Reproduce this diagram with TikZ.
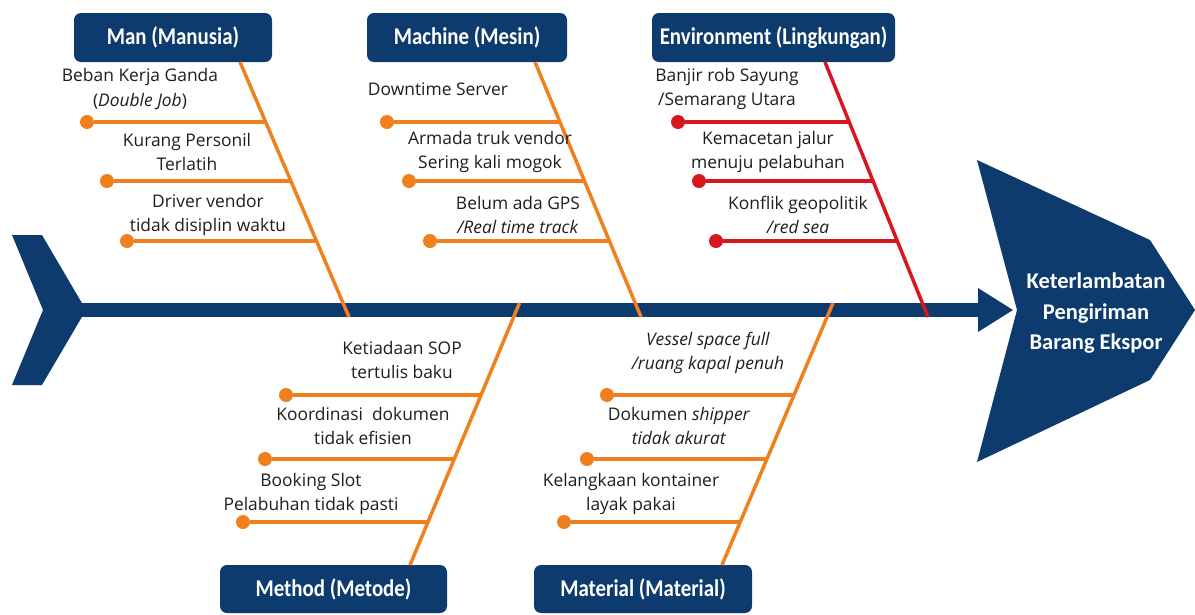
\documentclass[tikz,border=0pt]{standalone}
\usepackage{fontspec}
\usepackage{graphicx}
\setmainfont{Open Sans}
\newfontfamily\hdr{Carlito}
\definecolor{navy}{HTML}{0D3B6E}
\definecolor{org}{HTML}{F07F1D}
\definecolor{rd}{HTML}{D8161F}
\definecolor{txt}{HTML}{1E1E1E}
\newcommand{\hd}[1]{\scalebox{0.87}[1]{#1}}
\begin{document}
\begin{tikzpicture}[x=1pt,y=-1pt,
  box/.style={fill=navy, rounded corners=7pt, text=white, font=\hdr\bfseries\fontsize{24}{26}\selectfont, inner sep=0pt},
  lbl/.style={font=\fontsize{17.4}{24.5}\selectfont, align=center, text=txt, inner sep=0pt},
  obone/.style={draw=org, line width=3.5pt},
  rbone/.style={draw=rd, line width=3.5pt},
  odot/.style={circle, fill=org, minimum size=14pt, inner sep=0pt},
  rdot/.style={circle, fill=rd, minimum size=14pt, inner sep=0pt},
  headtxt/.style={text=white, font=\hdr\bfseries\fontsize{22.5}{30.5}\selectfont, align=center, inner sep=0pt}
]
\useasboundingbox (0,0) rectangle (1195,614);
% tail
\fill[navy] (12,235) -- (42,235) -- (86,310) -- (42,385) -- (12,385) -- (43,310) -- cycle;
% spine with arrow
\fill[navy] (80,303) rectangle (979,317);
\fill[navy] (978,288) -- (1013,310) -- (978,332) -- cycle;
% head
\fill[navy] (977,160) -- (1150,240) -- (1195,310) -- (1150,380) -- (977,462) -- (1017,310) -- cycle;
\node[headtxt] (head) at (1096,313.5) {Keterlambatan\\Pengiriman\\Barang Ekspor};

% category boxes
\node[box, minimum width=198pt, minimum height=49pt] (man) at (173,37.5) {\hd{Man (Manusia)}};
\node[box, minimum width=200pt, minimum height=49pt] (mach) at (467,37.5) {\hd{Machine (Mesin)}};
\node[box, minimum width=243pt, minimum height=49pt] (env) at (773.5,37.5) {\hd{Environment (Lingkungan)}};
\node[box, minimum width=227pt, minimum height=48pt] (meth) at (333.5,589) {\hd{Method (Metode)}};
\node[box, minimum width=218pt, minimum height=48pt] (mat) at (643,589) {\hd{Material (Material)}};

% bone coordinates
\coordinate (manT) at (240,62);   \coordinate (manB) at (349,317);
\coordinate (machT) at (535,62);  \coordinate (machB) at (641,317);
\coordinate (envT) at (825,62);   \coordinate (envB) at (928,317);
\coordinate (methT) at (519.5,303); \coordinate (methB) at (410,565);
\coordinate (matT) at (833,303);  \coordinate (matB) at (722,565);

\draw[obone] (manT) -- (manB);
\draw[obone] (machT) -- (machB);
\draw[rbone] (envT) -- (envB);
\draw[obone] (methT) -- (methB);
\draw[obone] (matT) -- (matB);

% Man branches
\node[odot] (m1) at (87,122) {};  \coordinate (m1e) at (265.5,122);
\node[odot] (m2) at (107,181) {}; \coordinate (m2e) at (290.6,181);
\node[odot] (m3) at (127,241) {}; \coordinate (m3e) at (316.1,241);
\draw[obone] (m1) -- (m1e);
\draw[obone] (m2) -- (m2e);
\draw[obone] (m3) -- (m3e);
% Machine branches
\node[odot] (c1) at (387,122) {}; \coordinate (c1e) at (560,122);
\node[odot] (c2) at (409,181) {}; \coordinate (c2e) at (584.7,181);
\node[odot] (c3) at (430,241) {}; \coordinate (c3e) at (609.7,241);
\draw[obone] (c1) -- (c1e);
\draw[obone] (c2) -- (c2e);
\draw[obone] (c3) -- (c3e);
% Environment branches
\node[rdot] (e1) at (678,122) {}; \coordinate (e1e) at (849.3,122);
\node[rdot] (e2) at (699,181) {}; \coordinate (e2e) at (873.3,181);
\node[rdot] (e3) at (716,241) {}; \coordinate (e3e) at (897.6,241);
\draw[rbone] (e1) -- (e1e);
\draw[rbone] (e2) -- (e2e);
\draw[rbone] (e3) -- (e3e);
% Method branches
\node[odot] (t1) at (286,395) {}; \coordinate (t1e) at (481,395);
\node[odot] (t2) at (265,459) {}; \coordinate (t2e) at (455,459);
\node[odot] (t3) at (243,522) {}; \coordinate (t3e) at (428,522);
\draw[obone] (t1) -- (t1e);
\draw[obone] (t2) -- (t2e);
\draw[obone] (t3) -- (t3e);
% Material branches
\node[odot] (a1) at (607,395) {}; \coordinate (a1e) at (794,395);
\node[odot] (a2) at (587,459) {}; \coordinate (a2e) at (767,459);
\node[odot] (a3) at (564,522) {}; \coordinate (a3e) at (740,522);
\draw[obone] (a1) -- (a1e);
\draw[obone] (a2) -- (a2e);
\draw[obone] (a3) -- (a3e);

% labels
\node[lbl] (lm1) at (140,89) {Beban Kerja Ganda\\(\textit{Double Job})};
\node[lbl] (lm2) at (187,152) {Kurang Personil\\Terlatih};
\node[lbl] (lm3) at (208,215) {Driver vendor\\tidak disiplin waktu};
\node[lbl] (lc1) at (438,89) {Downtime Server};
\node[lbl] (lc2) at (490,152) {Armada truk vendor\\Sering kali mogok};
\node[lbl] (lc3) at (518,215) {Belum ada GPS\\\textit{/Real time track}};
\node[lbl] (le1) at (727,89) {Banjir rob Sayung\\/Semarang Utara};
\node[lbl] (le2) at (768,152) {Kemacetan jalur\\menuju pelabuhan};
\node[lbl] (le3) at (798,215) {Konflik geopolitik\\\textit{/red sea}};
\node[lbl] (lt1) at (402,360) {Ketiadaan SOP\\tertulis baku};
\node[lbl] (lt2) at (363,426) {Koordinasi\ \ dokumen\\tidak efisien};
\node[lbl] (lt3) at (311,494) {Booking Slot\\Pelabuhan tidak pasti};
\node[lbl] (la1) at (708,353) {\textit{Vessel space full}\\\textit{/ruang kapal penuh}};
\node[lbl] (la2) at (679,426) {Dokumen \textit{shipper}\\\textit{tidak akurat}};
\node[lbl] (la3) at (631,494) {Kelangkaan kontainer\\layak pakai};
\end{tikzpicture}
\end{document}
